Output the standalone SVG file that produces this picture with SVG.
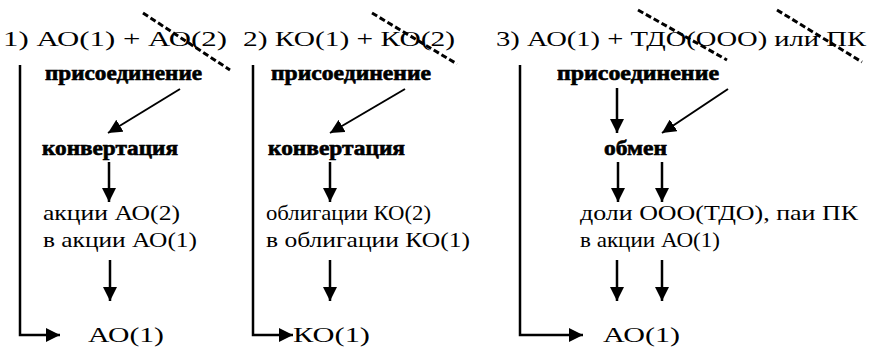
<svg xmlns="http://www.w3.org/2000/svg" width="870" height="347" viewBox="0 0 870 347">
<style>
.t{font-family:'Liberation Serif','DejaVu Serif',serif;font-size:22px;fill:#000}
.b{font-family:'Liberation Serif','DejaVu Serif',serif;font-size:20px;font-weight:bold;fill:#000;stroke:#000;stroke-width:0.6}
.ln{stroke:#000;stroke-width:2.5;fill:none}
.ar{stroke:#000;stroke-width:2;fill:none;marker-end:url(#ah)}
.ar2{stroke:#000;stroke-width:2.5;fill:none;marker-end:url(#ah)}
.x{stroke:#000;stroke-width:3;stroke-dasharray:6 3;fill:none}
</style>
<defs>
<marker id="ah" markerUnits="userSpaceOnUse" markerWidth="14" markerHeight="14" refX="14" refY="7" orient="auto" viewBox="0 0 14 14">
<path d="M0,0 L14,7 L0,14 z" fill="#000"/>
</marker>
</defs>
<rect width="870" height="347" fill="#fff"/>
<g id="title1"><text class="t" x="3" y="46" textLength="224" lengthAdjust="spacingAndGlyphs">1) АО(1) + АО(2)</text></g>
<g id="title2"><text class="t" x="243" y="46" textLength="212" lengthAdjust="spacingAndGlyphs">2) КО(1) + КО(2)</text></g>
<g id="title3"><text class="t" x="496" y="46" textLength="370" lengthAdjust="spacingAndGlyphs">3) АО(1) + ТДО(ООО) или ПК</text></g>
<g id="prisoed1"><text class="b" x="45" y="80" textLength="157" lengthAdjust="spacingAndGlyphs">присоединение</text></g>
<g id="prisoed2"><text class="b" x="271" y="80" textLength="160" lengthAdjust="spacingAndGlyphs">присоединение</text></g>
<g id="prisoed3"><text class="b" x="557" y="80" textLength="162" lengthAdjust="spacingAndGlyphs">присоединение</text></g>
<g id="konv1"><text class="b" x="42" y="155" textLength="136" lengthAdjust="spacingAndGlyphs">конвертация</text></g>
<g id="konv2"><text class="b" x="268" y="155" textLength="137" lengthAdjust="spacingAndGlyphs">конвертация</text></g>
<g id="obmen"><text class="b" x="604" y="155" textLength="63" lengthAdjust="spacingAndGlyphs">обмен</text></g>
<g id="res1"><text class="t" x="43" y="220" textLength="137" lengthAdjust="spacingAndGlyphs">акции АО(2)</text><text class="t" x="43" y="247" textLength="154" lengthAdjust="spacingAndGlyphs">в акции АО(1)</text></g>
<g id="res2"><text class="t" x="266" y="220" textLength="165" lengthAdjust="spacingAndGlyphs">облигации КО(2)</text><text class="t" x="266" y="247" textLength="204" lengthAdjust="spacingAndGlyphs">в облигации КО(1)</text></g>
<g id="res3"><text class="t" x="580" y="220" textLength="278" lengthAdjust="spacingAndGlyphs">доли ООО(ТДО), паи ПК</text><text class="t" x="580" y="247" textLength="140" lengthAdjust="spacingAndGlyphs">в акции АО(1)</text></g>
<g id="final1"><text class="t" x="88" y="342" textLength="76" lengthAdjust="spacingAndGlyphs">АО(1)</text></g>
<g id="final2"><text class="t" x="293" y="342" textLength="77" lengthAdjust="spacingAndGlyphs">КО(1)</text></g>
<g id="final3"><text class="t" x="603" y="342" textLength="77" lengthAdjust="spacingAndGlyphs">АО(1)</text></g>
<g id="strikes">
<line class="x" x1="143" y1="13" x2="230" y2="70"/>
<line class="x" x1="372" y1="13" x2="457" y2="64"/>
<line class="x" x1="638" y1="10" x2="727" y2="60"/>
<line class="x" x1="777" y1="10" x2="862" y2="62"/>
</g>
<g id="connectors">
<path class="ar2" d="M20,65 V335 H60"/>
<path class="ar2" d="M253,65 V335 H293"/>
<path class="ar2" d="M520,65 V335 H583"/>
<line class="ar" x1="180" y1="89" x2="108" y2="133"/>
<line class="ar" x1="405" y1="89" x2="330" y2="133"/>
<line class="ar" x1="728" y1="89" x2="662" y2="133"/>
<line class="ar2" x1="617" y1="88" x2="617" y2="133"/>
<line class="ar2" x1="109" y1="162" x2="109" y2="202"/>
<line class="ar2" x1="330" y1="162" x2="330" y2="202"/>
<line class="ar2" x1="618" y1="162" x2="618" y2="202"/>
<line class="ar2" x1="662" y1="162" x2="662" y2="202"/>
<line class="ar2" x1="110" y1="260" x2="110" y2="301"/>
<line class="ar2" x1="330" y1="260" x2="330" y2="301"/>
<line class="ar2" x1="617" y1="260" x2="617" y2="301"/>
<line class="ar2" x1="662" y1="260" x2="662" y2="301"/>
</g>
</svg>
